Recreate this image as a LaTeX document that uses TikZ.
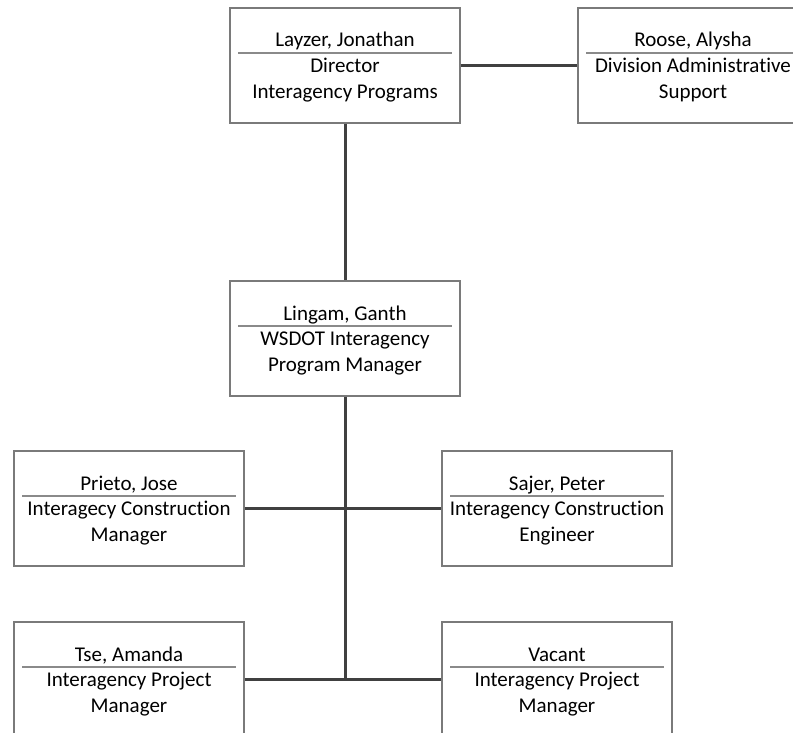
\documentclass[tikz,border=0pt]{standalone}
\usepackage{fontspec}
\setmainfont{Carlito}[Ligatures=NoCommon]
\definecolor{boxgray}{HTML}{7A7A7A}
\definecolor{sepgray}{HTML}{8A8A8A}
\definecolor{conngray}{HTML}{404040}
\tikzset{
  orgbox/.style={draw=boxgray, line width=1.1pt, minimum width=230pt, minimum height=115pt, inner sep=0pt},
  txt/.style={font=\fontsize{21}{26}\selectfont, anchor=base, inner sep=0pt, text=black},
  sepline/.style={draw=sepgray, line width=1.3pt},
  conn/.style={draw=conngray, line width=3pt},
}
% #1 id, #2 centre x, #3 top y, #4 name, #5 role line 1, #6 role line 2
\newcommand\orgunit[6]{%
  \node[orgbox] (#1) at (#2,#3+57.5) {};
  \node[txt] (#1-name) at (#2,#3+39) {#4};
  \draw[sepline] ([xshift=9pt,yshift=-45.5pt]#1.north west) -- ([xshift=-9pt,yshift=-45.5pt]#1.north east);
  \node[txt] (#1-roleA) at (#2,#3+64.5) {#5};
  \node[txt] (#1-roleB) at (#2,#3+90.5) {#6};
}
\begin{document}
\begin{tikzpicture}[x=1pt,y=-1pt]
  \useasboundingbox (0,0) rectangle (793,733);
  \clip (0,0) rectangle (793,733);
  \fill[white] (0,0) rectangle (793,733);

  \orgunit{layzer}{345}{8}{Layzer, Jonathan}{Director}{Interagency Programs}
  \orgunit{roose}{693}{8}{Roose, Alysha}{Division Administrative}{Support}
  \orgunit{lingam}{345}{281}{Lingam, Ganth}{WSDOT Interagency}{Program Manager}
  \orgunit{prieto}{129}{451}{Prieto, Jose}{Interagecy Construction}{Manager}
  \orgunit{sajer}{557}{451}{Sajer, Peter}{Interagency Construction}{Engineer}
  \orgunit{tse}{129}{622}{Tse, Amanda}{Interagency Project}{Manager}
  \orgunit{vacant}{557}{622}{Vacant}{Interagency Project}{Manager}

  \coordinate (trunkend) at (345,679.5);
  \draw[conn] (layzer.east) -- (roose.west);
  \draw[conn] (layzer.south) -- (lingam.north);
  \draw[conn] (lingam.south) -- (trunkend);
  \draw[conn] (prieto.east) -- (sajer.west);
  \draw[conn] (tse.east) -- (vacant.west);
\end{tikzpicture}
\end{document}
